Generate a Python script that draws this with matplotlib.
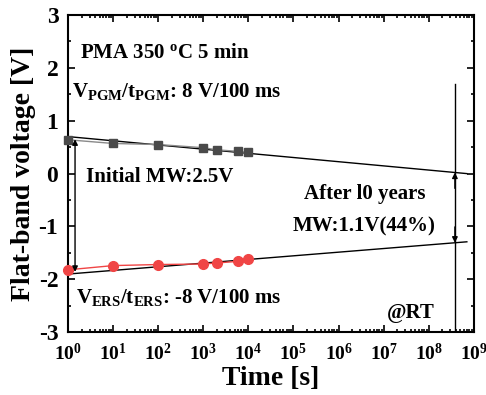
import numpy as np
import matplotlib
matplotlib.use("Agg")
import matplotlib.pyplot as plt
from matplotlib.ticker import FixedLocator, LogLocator, NullFormatter, FuncFormatter, MultipleLocator

plt.rcParams['font.family'] = ['Liberation Serif', 'DejaVu Serif']
plt.rcParams['font.weight'] = 'bold'
plt.rcParams['axes.unicode_minus'] = False
plt.rcParams['mathtext.fontset'] = 'custom'
plt.rcParams['mathtext.rm'] = 'Liberation Serif:bold'
plt.rcParams['mathtext.bf'] = 'Liberation Serif:bold'
plt.rcParams['mathtext.it'] = 'Liberation Serif:bold:italic'

# data
pgm_time = [1, 10, 100, 1000, 2000, 6000, 10000]
pgm_vfb = [0.64, 0.57, 0.55, 0.49, 0.45, 0.42, 0.40]
ers_time = [1, 10, 100, 1000, 2000, 6000, 10000]
ers_vfb = [-1.82, -1.74, -1.72, -1.71, -1.69, -1.66, -1.62]
fit_time = [1, 7e8]
pgm_fit = [0.70, 0.00]
ers_fit = [-1.90, -1.29]
ten_years = 3.8e8
xticks = [10.0**k for k in range(0, 10)]
yticks = [-3, -2, -1, 0, 1, 2, 3]

fig = plt.figure(figsize=(4.86, 3.95), dpi=100)
ax = fig.add_axes([0.140, 0.159, 0.835, 0.803])

ax.plot(fit_time, pgm_fit, color='black', lw=1.0, zorder=2)
ax.plot(fit_time, ers_fit, color='black', lw=1.0, zorder=2)
ax.plot(pgm_time, pgm_vfb, color='#8a8a8a', lw=1.0, marker='s', ms=6,
        mfc='#4a4a4a', mec='#4a4a4a', zorder=3, clip_on=False)
ax.plot(ers_time, ers_vfb, color='#f04545', lw=1.0, marker='o', ms=7,
        mfc='#f04545', mec='#f04545', zorder=3, clip_on=False)

# initial MW arrow
x_init = 1.43
ax.annotate('', xy=(x_init, pgm_fit[0] - 0.05), xytext=(x_init, ers_fit[0] + 0.04),
            arrowprops=dict(arrowstyle='<|-|>', color='black', lw=1.0,
                            mutation_scale=8, shrinkA=0, shrinkB=0))

# 10 years line + arrow heads
up_val = np.interp(np.log10(ten_years), np.log10(fit_time), pgm_fit)
lo_val = np.interp(np.log10(ten_years), np.log10(fit_time), ers_fit)
ax.plot([ten_years, ten_years], [1.69, -3], color='black', lw=1.0, zorder=2)
ax.annotate('', xy=(ten_years, up_val), xytext=(ten_years, up_val - 0.3),
            arrowprops=dict(arrowstyle='-|>', color='black', lw=1.0,
                            mutation_scale=8, shrinkA=0, shrinkB=0))
ax.annotate('', xy=(ten_years, lo_val), xytext=(ten_years, lo_val + 0.3),
            arrowprops=dict(arrowstyle='-|>', color='black', lw=1.0,
                            mutation_scale=8, shrinkA=0, shrinkB=0))

ax.set_xscale('log')
ax.set_xlim(1, 1e9)
ax.set_ylim(-3, 3)
ax.xaxis.set_major_locator(FixedLocator(xticks))
ax.xaxis.set_minor_locator(LogLocator(base=10, subs=np.arange(2, 10), numticks=20))
ax.xaxis.set_minor_formatter(NullFormatter())
ax.xaxis.set_major_formatter(FuncFormatter(lambda v, p: r'$\mathbf{10^{%d}}$' % int(round(np.log10(v)))))
ax.yaxis.set_major_locator(FixedLocator(yticks))
ax.yaxis.set_minor_locator(MultipleLocator(0.5))
ax.yaxis.set_major_formatter(FuncFormatter(lambda v, p: '%d' % int(round(v))))

ax.tick_params(which='both', direction='in', top=True, right=True, width=1.2)
ax.tick_params(which='major', length=5)
ax.tick_params(which='minor', length=2.5)
ax.tick_params(axis='y', which='major', labelsize=17, pad=7)
ax.tick_params(axis='x', which='major', labelsize=14, pad=8)
for s in ax.spines.values():
    s.set_linewidth(1.5)

ax.set_xlabel('Time [s]', fontsize=20, fontweight='bold', labelpad=1)
ax.set_ylabel('Flat-band voltage [V]', fontsize=20, fontweight='bold', labelpad=2)

fs = 15
ax.text(0.03, 0.865, r'PMA 350 $^{\mathbf{o}}$C 5 min', transform=ax.transAxes, fontsize=fs, fontweight='bold', va='baseline')
ax.text(0.01, 0.74, r'$\mathbf{V_{PGM}/t_{PGM}}$: 8 V/100 ms', transform=ax.transAxes, fontsize=fs, fontweight='bold', va='baseline')
ax.text(0.045, 0.475, 'Initial MW:2.5V', transform=ax.transAxes, fontsize=fs, fontweight='bold', va='baseline')
ax.text(0.73, 0.42, 'After l0 years', transform=ax.transAxes, fontsize=fs, fontweight='bold', va='baseline', ha='center')
ax.text(0.73, 0.318, 'MW:1.1V(44%)', transform=ax.transAxes, fontsize=fs, fontweight='bold', va='baseline', ha='center')
ax.text(0.02, 0.092, r'$\mathbf{V_{ERS}/t_{ERS}}$: -8 V/100 ms', transform=ax.transAxes, fontsize=fs, fontweight='bold', va='baseline')
ax.text(0.785, 0.045, '@RT', transform=ax.transAxes, fontsize=fs, fontweight='bold', va='baseline')

fig.savefig('out.png', dpi=100)
